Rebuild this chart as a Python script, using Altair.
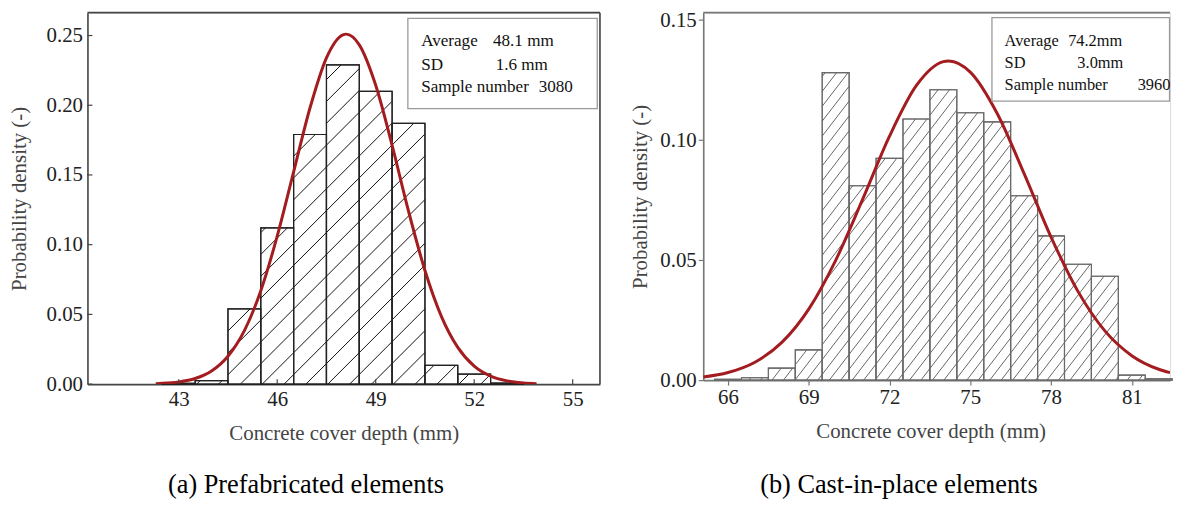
import math
import altair as alt
import pandas as pd

# ---------------- data: (a) prefabricated elements ----------------
A_BIN_LEFT = [42.5, 43.5, 44.5, 45.5, 46.5, 47.5, 48.5, 49.5, 50.5, 51.5, 52.5]
A_BIN_RIGHT = [43.5, 44.5, 45.5, 46.5, 47.5, 48.5, 49.5, 50.5, 51.5, 52.5, 53.5]
A_DENSITY = [0.0006, 0.0025, 0.054, 0.112, 0.179, 0.229, 0.210, 0.187, 0.0135, 0.0072, 0.0008]
A_FIT_X = [42.3, 42.5, 43.0, 43.5, 44.0, 44.5, 45.0, 45.5, 46.0, 46.5, 47.0, 47.5, 48.0, 48.1,
           48.5, 49.0, 49.5, 50.0, 50.5, 51.0, 51.5, 52.0, 52.5, 53.0, 53.5, 53.9]
A_FIT_Y = [0.00035, 0.00055, 0.00156, 0.00403, 0.00942, 0.0200, 0.0384, 0.0670, 0.1061, 0.1522,
           0.1982, 0.2340, 0.2505, 0.2510, 0.2433, 0.2143, 0.1712, 0.1240, 0.0815, 0.0486,
           0.0263, 0.01287, 0.00572, 0.00231, 0.00084, 0.00035]
A_XTICKS = [43, 46, 49, 52, 55]
A_YTICKS = [0.0, 0.05, 0.10, 0.15, 0.20, 0.25]
A_STAT_NAMES = ["Average", "SD", "Sample number"]
A_STAT_VALUES = ["48.1 mm", "1.6 mm", "3080"]
A_CAPTION = "(a) Prefabricated elements"

# ---------------- data: (b) cast-in-place elements ----------------
B_BIN_LEFT = [65.5, 66.5, 67.5, 68.5, 69.5, 70.5, 71.5, 72.5, 73.5, 74.5, 75.5, 76.5, 77.5,
              78.5, 79.5, 80.5, 81.5]
B_BIN_RIGHT = [66.5, 67.5, 68.5, 69.5, 70.5, 71.5, 72.5, 73.5, 74.5, 75.5, 76.5, 77.5, 78.5,
               79.5, 80.5, 81.5, 82.5]
B_DENSITY = [0.0004, 0.0010, 0.0050, 0.0126, 0.1281, 0.0810, 0.0924, 0.1088, 0.1210, 0.1114,
             0.1076, 0.0768, 0.0601, 0.0483, 0.0433, 0.0021, 0.0006]
B_FIT_X = [65.08, 66, 67, 68, 69, 70, 71, 72, 73, 74, 74.2, 75, 76, 77, 78, 79, 80, 81, 82, 82.42]
B_FIT_Y = [0.00131, 0.00317, 0.00747, 0.01571, 0.02961, 0.04992, 0.07529, 0.10164, 0.12277,
           0.13270, 0.1330, 0.12835, 0.11109, 0.08604, 0.05963, 0.03698, 0.02052, 0.01019,
           0.00453, 0.00311]
B_XTICKS = [66, 69, 72, 75, 78, 81]
B_YTICKS = [0.0, 0.05, 0.10, 0.15]
B_STAT_NAMES = ["Average", "SD", "Sample number"]
B_STAT_VALUES = ["74.2mm", "3.0mm", "3960"]
B_CAPTION = "(b) Cast-in-place elements"

X_TITLE = "Concrete cover depth (mm)"
Y_TITLE = "Probability density (-)"

FONT = "Liberation Serif"
CURVE = "#a31c20"

# ---------------- layout ----------------
W1, H1 = 516, 374
XA = [40.22, 55.83]
YA = [0.0, 0.2664]
W2, H2 = 470, 370
XB = [65.08, 82.42]
YB = [0.0, 0.1531]

ONE = pd.DataFrame({"k": [0]})


def hatch_segments(lefts, rights, vals, xdom, ydom, w, h, slope, spacing):
    """Diagonal hatch strokes clipped to each bar, expressed in data units."""
    xpu = w / (xdom[1] - xdom[0])
    ypu = h / (ydom[1] - ydom[0])
    rows = []
    for l, r, v in zip(lefts, rights, vals):
        px0 = (l - xdom[0]) * xpu
        px1 = (r - xdom[0]) * xpu
        ph = v * ypu
        kmin = math.floor((0 - slope * px1) / spacing)
        kmax = math.ceil((ph - slope * px0) / spacing)
        for k in range(kmin, kmax + 1):
            c = k * spacing
            xa = max(px0, (0 - c) / slope)
            xb = min(px1, (ph - c) / slope)
            if xb - xa > 0.8:
                rows.append({
                    "hx": xdom[0] + xa / xpu, "hx2": xdom[0] + xb / xpu,
                    "hy": (slope * xa + c) / ypu, "hy2": (slope * xb + c) / ypu,
                })
    return pd.DataFrame(rows)


def text_mark(txt, x, y, size, color="#111", align="left", baseline="alphabetic"):
    return alt.Chart(ONE).mark_text(
        text=txt, font=FONT, fontSize=size, fontWeight="normal", color=color,
        align=align, baseline=baseline
    ).encode(x=alt.value(x), y=alt.value(y))


def panel(lefts, rights, vals, fx, fy, xdom, ydom, w, h, xticks, yticks,
          names, values, caption, cfg):
    bars = pd.DataFrame({"x0": lefts, "x1": rights, "d": vals})
    fit = pd.DataFrame({"fx": fx, "fy": fy})
    xs = alt.Scale(domain=xdom, nice=False, zero=False)
    ys = alt.Scale(domain=ydom, nice=False, zero=False)
    frame = cfg["frame"]
    inner = cfg["inner_ticks"]

    xaxis = alt.Axis(values=xticks, format="d", grid=False, ticks=not inner,
                     tickSize=5, tickColor=frame, tickWidth=1.2,
                     domainColor=frame, domainWidth=1.6,
                     labelFont=FONT, labelFontSize=21, labelColor="#222",
                     labelPadding=5 if inner else 2, labelFlush=False,
                     title=X_TITLE, titleFont=FONT, titleFontSize=21,
                     titleFontWeight="normal", titleColor="#444",
                     titleBaseline="middle", titleY=cfg["xtitle_y"],
                     titleX=cfg["xtitle_x"])
    yaxis = alt.Axis(values=yticks, format=".2f", grid=False, ticks=not inner,
                     tickSize=5, tickColor=frame, tickWidth=1.2,
                     domainColor=frame, domainWidth=1.6,
                     labelFont=FONT, labelFontSize=21, labelColor="#222",
                     labelPadding=5 if inner else 2, labelFlush=False,
                     title=Y_TITLE, titleFont=FONT, titleFontSize=21,
                     titleFontWeight="normal", titleColor="#444",
                     titleBaseline="middle", titleX=cfg["ytitle_x"])

    base_bars = alt.Chart(bars).mark_rect(
        fill="white", stroke=cfg["bar_stroke"], strokeWidth=cfg["bar_width"]
    ).encode(
        x=alt.X("x0:Q", scale=xs, axis=xaxis),
        x2="x1:Q",
        y=alt.Y("d:Q", scale=ys, axis=yaxis),
        y2=alt.datum(0),
    )
    hdf = hatch_segments(lefts, rights, vals, xdom, ydom, w, h,
                         cfg["slope"], cfg["spacing"])
    hatch = alt.Chart(hdf).mark_rule(
        color=cfg["hatch_color"], strokeWidth=cfg["hatch_width"]
    ).encode(x=alt.X("hx:Q", scale=xs), x2="hx2:Q",
             y=alt.Y("hy:Q", scale=ys), y2="hy2:Q")
    outline = alt.Chart(bars).mark_rect(
        fill=None, fillOpacity=0, stroke=cfg["bar_stroke"], strokeWidth=cfg["bar_width"]
    ).encode(x=alt.X("x0:Q", scale=xs), x2="x1:Q",
             y=alt.Y("d:Q", scale=ys), y2=alt.datum(0))
    curve = alt.Chart(fit).mark_line(
        color=CURVE, strokeWidth=3, interpolate="monotone", clip=True
    ).encode(x=alt.X("fx:Q", scale=xs), y=alt.Y("fy:Q", scale=ys))

    layers = [base_bars, hatch, outline, curve]

    # legend box
    bx = cfg["box"]
    layers.append(alt.Chart(ONE).mark_rect(
        fill="white", stroke="#9a9a9a", strokeWidth=1.3
    ).encode(x=alt.value(bx[0]), x2=alt.value(bx[1]), y=alt.value(bx[2]), y2=alt.value(bx[3])))
    for i, (nm, vl) in enumerate(zip(names, values)):
        yb = cfg["rows_y"][i]
        layers.append(text_mark(nm, cfg["name_x"], yb, cfg["legend_size"]))
        layers.append(text_mark(vl, cfg["value_x"][i], yb, cfg["legend_size"]))

    # frame: top border (and right border where visible)
    layers.append(alt.Chart(ONE).mark_rule(color=frame, strokeWidth=1.6).encode(
        x=alt.value(0), x2=alt.value(w), y=alt.value(0)))
    if cfg["right_border"]:
        layers.append(alt.Chart(ONE).mark_rule(color=frame, strokeWidth=1.6).encode(
            x=alt.value(w), y=alt.value(0), y2=alt.value(h)))
    if inner:
        xt = pd.DataFrame({"t": xticks})
        yt = pd.DataFrame({"t": yticks})
        layers.append(alt.Chart(xt).mark_rule(color=frame, strokeWidth=1.2).encode(
            x=alt.X("t:Q", scale=xs), y=alt.value(h), y2=alt.value(h - 5)))
        layers.append(alt.Chart(yt).mark_rule(color=frame, strokeWidth=1.2).encode(
            y=alt.Y("t:Q", scale=ys), x=alt.value(0), x2=alt.value(5)))

    # caption under the panel
    layers.append(text_mark(caption, cfg["cap_x"], cfg["cap_y"], 26.5, color="#000",
                            align="center", baseline="middle"))

    return alt.layer(*layers).properties(width=w, height=h)


left = panel(A_BIN_LEFT, A_BIN_RIGHT, A_DENSITY, A_FIT_X, A_FIT_Y, XA, YA, W1, H1,
             A_XTICKS, A_YTICKS, A_STAT_NAMES, A_STAT_VALUES, A_CAPTION,
             dict(frame="#454545", inner_ticks=True, bar_stroke="#222", bar_width=1.2,
                  hatch_color="#111", hatch_width=1.0, slope=1.0, spacing=22,
                  box=(322.6, 513.3, 5.7, 96.7), rows_y=[33.4, 57.4, 80.0], name_x=336,
                  value_x=[408.3, 411.0, 454.3], right_border=True, legend_size=17.2,
                  xtitle_y=50, xtitle_x=W1 / 2, ytitle_x=-68,
                  cap_x=220, cap_y=476))

right = panel(B_BIN_LEFT, B_BIN_RIGHT, B_DENSITY, B_FIT_X, B_FIT_Y, XB, YB, W2, H2,
              B_XTICKS, B_YTICKS, B_STAT_NAMES, B_STAT_VALUES, B_CAPTION,
              dict(frame="#777777", inner_ticks=False, bar_stroke="#6a6a6a", bar_width=1.1,
                   hatch_color="#555", hatch_width=0.9, slope=1.3, spacing=15,
                   box=(290.7, 469.5, 5.0, 89.0), rows_y=[33.3, 56.0, 78.3], name_x=303.4,
                   value_x=[367.4, 376.7, 437.4], right_border=False, legend_size=16.5,
                   xtitle_y=52, xtitle_x=229, ytitle_x=-63,
                   cap_x=197, cap_y=476))

chart = alt.hconcat(left, right, spacing=27).properties(
    padding={"left": 0, "top": -2, "right": 0, "bottom": 0}
).configure_view(stroke=None).configure(background="white")

chart.save("out.html", embed_options={"renderer": "svg", "actions": False})
